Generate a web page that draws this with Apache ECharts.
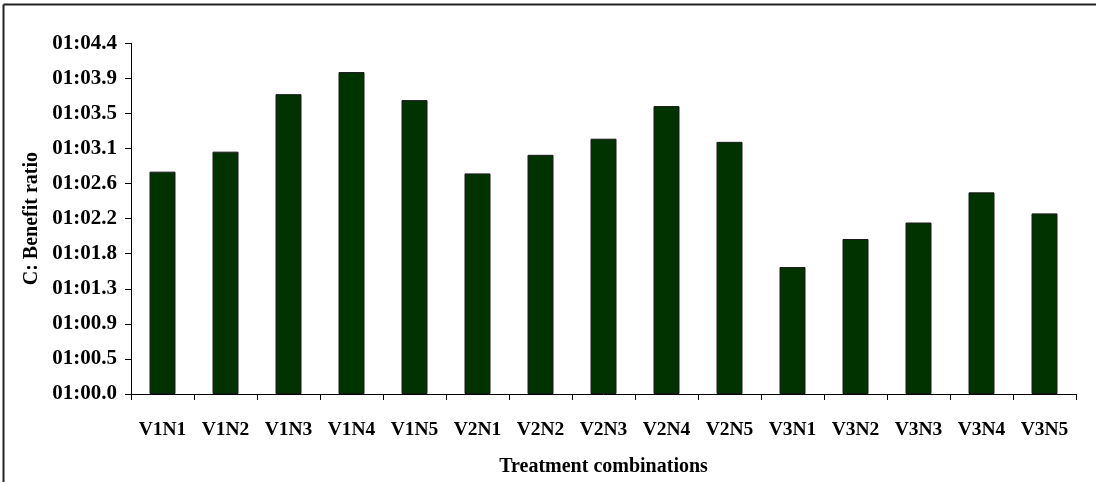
<!DOCTYPE html>
<html>
<head>
<meta charset="utf-8">
<script src="https://cdn.jsdelivr.net/npm/echarts@6/dist/echarts.min.js"></script>
<style>
html,body{margin:0;padding:0;background:#fff;}
#c{width:1096px;height:482px;}
</style>
</head>
<body>
<div id="c"></div>
<script>
const categories = ["V1N1","V1N2","V1N3","V1N4","V1N5","V2N1","V2N2","V2N3","V2N4","V2N5","V3N1","V3N2","V3N3","V3N4","V3N5"];
// values expressed in axis tick steps (0 = 01:00.0, 10 = 01:04.4)
const values = [6.34, 6.91, 8.55, 9.18, 8.38, 6.29, 6.82, 7.28, 8.21, 7.19, 3.62, 4.42, 4.89, 5.75, 5.15];
const tickLabels = ["01:00.0","01:00.5","01:00.9","01:01.3","01:01.8","01:02.2","01:02.6","01:03.1","01:03.5","01:03.9","01:04.4"];
const xTitle = "Treatment combinations";
const yTitle = "C: Benefit ratio";

const font = "'Liberation Serif','Times New Roman',serif";
const chart = echarts.init(document.getElementById('c'), null, {renderer:'canvas'});
chart.setOption({
  animation:false,
  backgroundColor:'#fff',
  graphic:[
    {type:'line', shape:{x1:3.5,y1:4.5,x2:1096,y2:4.5}, style:{stroke:'#222',lineWidth:2}},
    {type:'line', shape:{x1:3.5,y1:4.5,x2:3.5,y2:482}, style:{stroke:'#222',lineWidth:2}}
  ],
  grid:{left:131, right:20, top:43.3, bottom:80.5, containLabel:false},
  xAxis:{
    type:'category', data:categories,
    axisLine:{lineStyle:{color:'#000',width:1}},
    axisTick:{show:true, interval:0, alignWithLabel:false, length:6, inside:false, lineStyle:{color:'#000'}},
    axisLabel:{color:'#000', interval:0, hideOverlap:false, fontFamily:font, fontWeight:'bold', fontSize:19.5, margin:26},
    name:xTitle, nameLocation:'middle', nameGap:63,
    nameTextStyle:{color:'#000', fontFamily:font, fontWeight:'bold', fontSize:20}
  },
  yAxis:{
    type:'value', min:0, max:10, interval:1,
    axisLine:{show:true, lineStyle:{color:'#000',width:1}},
    axisTick:{show:true, length:6, lineStyle:{color:'#000'}},
    splitLine:{show:false},
    axisLabel:{color:'#000', fontFamily:font, fontWeight:'bold', fontSize:21, margin:14,
      formatter:(v)=>tickLabels[Math.round(v)]},
    name:yTitle, nameLocation:'middle', nameGap:83,
    nameTextStyle:{color:'#000', fontFamily:font, fontWeight:'bold', fontSize:20}
  },
  series:[{
    type:'bar', data:values, barWidth:26,
    itemStyle:{color:'#003300', borderColor:'#1a1a1a', borderWidth:1}
  }]
});
</script>
</body>
</html>
